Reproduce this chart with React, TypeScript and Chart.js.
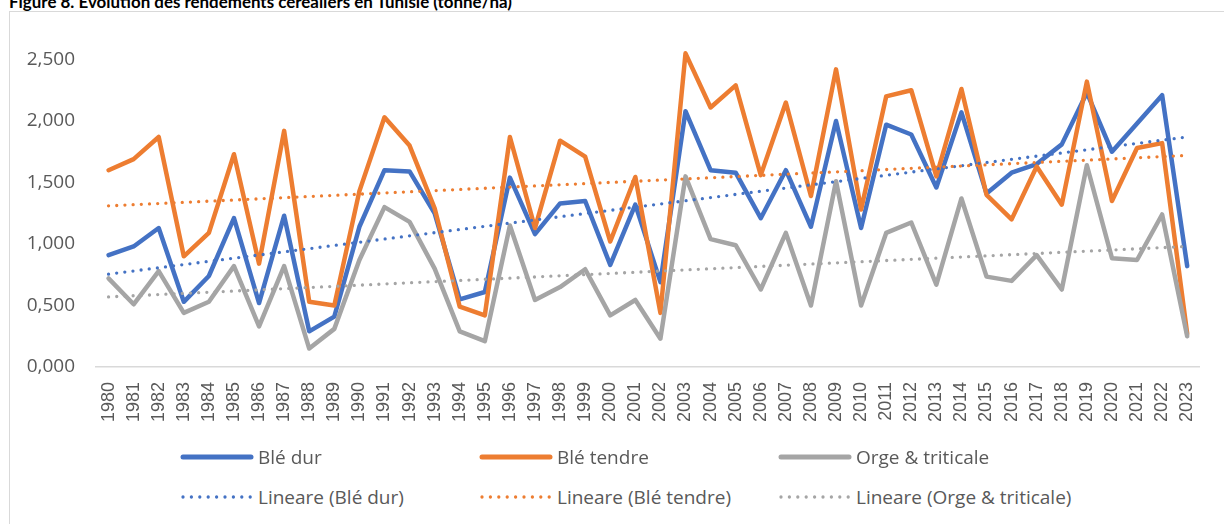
import React, { useEffect, useLayoutEffect, useRef } from "react";
import { Chart, registerables } from "chart.js";

Chart.register(...registerables);

const years = [
  "1980", "1981", "1982", "1983", "1984", "1985", "1986", "1987", "1988", "1989",
  "1990", "1991", "1992", "1993", "1994", "1995", "1996", "1997", "1998", "1999",
  "2000", "2001", "2002", "2003", "2004", "2005", "2006", "2007", "2008", "2009",
  "2010", "2011", "2012", "2013", "2014", "2015", "2016", "2017", "2018", "2019",
  "2020", "2021", "2022", "2023",
];

const bleDur = [
  0.91, 0.98, 1.13, 0.53, 0.74, 1.21, 0.52, 1.23, 0.29, 0.41,
  1.14, 1.6, 1.59, 1.25, 0.55, 0.61, 1.54, 1.08, 1.33, 1.35,
  0.83, 1.32, 0.69, 2.08, 1.6, 1.58, 1.21, 1.6, 1.14, 2.0,
  1.13, 1.97, 1.89, 1.46, 2.07, 1.41, 1.58, 1.65, 1.81, 2.23,
  1.75, 1.98, 2.21, 0.82,
];

const bleTendre = [
  1.6, 1.69, 1.87, 0.9, 1.09, 1.73, 0.84, 1.92, 0.53, 0.5,
  1.43, 2.03, 1.8, 1.29, 0.49, 0.42, 1.87, 1.13, 1.84, 1.71,
  1.02, 1.545, 0.44, 2.55, 2.11, 2.29, 1.56, 2.15, 1.39, 2.42,
  1.28, 2.2, 2.25, 1.55, 2.26, 1.4, 1.2, 1.63, 1.32, 2.32,
  1.35, 1.78, 1.82, 0.27,
];

const orgeTriticale = [
  0.72, 0.51, 0.78, 0.44, 0.53, 0.82, 0.33, 0.82, 0.15, 0.31,
  0.87, 1.3, 1.18, 0.8, 0.29, 0.21, 1.15, 0.545, 0.65, 0.795,
  0.42, 0.545, 0.23, 1.55, 1.04, 0.99, 0.63, 1.09, 0.5, 1.51,
  0.5, 1.09, 1.175, 0.67, 1.37, 0.735, 0.7, 0.91, 0.63, 1.64,
  0.885, 0.87, 1.24, 0.25,
];

// trend line end points (first year, last year)
const trendBleDur = [0.755, 1.87];
const trendBleTendre = [1.31, 1.72];
const trendOrge = [0.57, 0.98];

const yTickValues = [0, 0.5, 1, 1.5, 2, 2.5];

const seriesNames = ["Blé dur", "Blé tendre", "Orge & triticale"];
const trendNames = ["Lineare (Blé dur)", "Lineare (Blé tendre)", "Lineare (Orge & triticale)"];
const colors = ["#4472C4", "#ED7D31", "#A5A5A5"];

const titleText = "Figure 8. Evolution des rendements céréaliers en Tunisie (tonne/ha)";

const endpoints = (pair: number[]) =>
  years.map((_, i) => (i === 0 ? pair[0] : i === years.length - 1 ? pair[1] : null));

const CANVAS_W = 1224;
const CANVAS_H = 445;

function LegendItem({ x, y, color, label, dotted }: any) {
  return (
    <div style={{ position: "absolute", left: x, top: y - 13, height: 26, display: "flex", alignItems: "center", whiteSpace: "nowrap" }}>
      <svg width={74} height={10} style={{ display: "block" }}>
        {dotted ? (
          <line x1={3} y1={5} x2={71} y2={5} stroke={color} strokeWidth={3.3} strokeLinecap="round" strokeDasharray="0 8.4" />
        ) : (
          <line x1={3} y1={5} x2={71} y2={5} stroke={color} strokeWidth={5} strokeLinecap="round" />
        )}
      </svg>
      <span style={{ marginLeft: 4, fontFamily: "'Open Sans', sans-serif", fontSize: 19, color: "#595959", lineHeight: "26px" }}>{label}</span>
    </div>
  );
}

export default function App() {
  const canvasRef = useRef<HTMLCanvasElement | null>(null);
  const titleRef = useRef<HTMLSpanElement | null>(null);

  useLayoutEffect(() => {
    const el = titleRef.current;
    if (el) {
      const w = el.getBoundingClientRect().width;
      if (w > 0) el.style.transform = `scaleX(${503 / w})`;
    }
  }, []);

  useEffect(() => {
    const ctx = canvasRef.current;
    if (!ctx) return;
    const chart = new Chart(ctx, {
      type: "line",
      data: {
        labels: years,
        datasets: [
          { label: seriesNames[0], data: bleDur, borderColor: colors[0], borderWidth: 4.5, order: 6 },
          { label: seriesNames[1], data: bleTendre, borderColor: colors[1], borderWidth: 4.5, order: 5 },
          { label: seriesNames[2], data: orgeTriticale, borderColor: colors[2], borderWidth: 4.5, order: 4 },
          { label: trendNames[0], data: endpoints(trendBleDur), borderColor: colors[0], borderWidth: 3.3, borderDash: [0, 8.2], spanGaps: true, order: 3 },
          { label: trendNames[1], data: endpoints(trendBleTendre), borderColor: colors[1], borderWidth: 3.3, borderDash: [0, 8.2], spanGaps: true, order: 2 },
          { label: trendNames[2], data: endpoints(trendOrge), borderColor: colors[2], borderWidth: 3.3, borderDash: [0, 8.2], spanGaps: true, order: 1 },
        ] as any,
      },
      options: {
        animation: false,
        responsive: false,
        maintainAspectRatio: false,
        events: [],
        layout: { padding: { top: 59.5, right: 17, bottom: 0, left: 0 } },
        elements: {
          point: { radius: 0, hoverRadius: 0 },
          line: { tension: 0, borderCapStyle: "round", borderJoinStyle: "round", fill: false },
        },
        datasets: { line: { clip: false } as any },
        plugins: {
          legend: { display: false },
          tooltip: { enabled: false },
          title: { display: false },
        },
        scales: {
          x: {
            type: "category",
            offset: true,
            grid: { display: false, drawTicks: false },
            border: { display: true, color: "#D9D9D9", width: 1.5 },
            ticks: {
              autoSkip: false,
              minRotation: 90,
              maxRotation: 90,
              padding: 15,
              color: "#595959",
              font: { family: "'Liberation Sans', Arial, sans-serif", size: 18 },
            },
            afterFit: (scale: any) => {
              scale.height = CANVAS_H - 367;
            },
          },
          y: {
            min: 0,
            max: 2.5,
            grid: { display: false, drawTicks: false },
            border: { display: false },
            afterBuildTicks: (scale: any) => {
              scale.ticks = yTickValues.map((v) => ({ value: v }));
            },
            afterFit: (scale: any) => {
              scale.width = 96;
            },
            ticks: {
              padding: 21,
              color: "#595959",
              font: { family: "'Open Sans', sans-serif", size: 19 },
              callback: (v: any) => Number(v).toFixed(3).replace(".", ","),
            },
          },
        },
      } as any,
    });
    return () => chart.destroy();
  }, []);

  const legendCols = [183, 482, 781];

  return (
    <div style={{ position: "fixed", left: 0, top: 0, width: 1224, height: 524, overflow: "hidden", background: "#fff" }}>
      <div style={{ position: "absolute", left: 8.5, top: 10.5, width: 1260, height: 560, border: "1px solid #D9D9D9", boxSizing: "border-box" }} />
      <div style={{ position: "absolute", left: 9, top: -7, whiteSpace: "nowrap", lineHeight: "18px" }}>
        <span ref={titleRef} style={{ display: "inline-block", transformOrigin: "0 0", fontFamily: "Lato, sans-serif", fontWeight: 700, fontSize: 17, color: "#000" }}>
          {titleText}
        </span>
      </div>
      <canvas ref={canvasRef} width={CANVAS_W} height={CANVAS_H} style={{ position: "absolute", left: 0, top: 0, width: CANVAS_W, height: CANVAS_H }} />
      {seriesNames.map((n, i) => (
        <LegendItem key={n} x={legendCols[i] - 3} y={457} color={colors[i]} label={n} dotted={false} />
      ))}
      {trendNames.map((n, i) => (
        <LegendItem key={n} x={legendCols[i] - 3} y={497} color={colors[i]} label={n} dotted={true} />
      ))}
    </div>
  );
}
